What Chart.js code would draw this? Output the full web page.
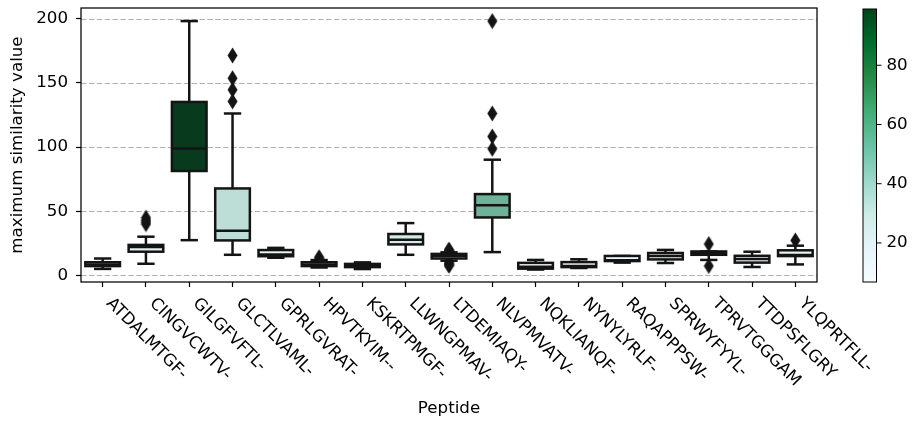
<!DOCTYPE html>
<html lang="en">
<head>
  <meta charset="UTF-8" />
  <title>Maximum similarity by peptide</title>
  <script src="https://cdn.jsdelivr.net/npm/chart.js"></script>
  <style>
    html, body { margin: 0; padding: 0; background: #fff; }
    #wrap { width: 914px; height: 423px; }
  </style>
</head>
<body>
  <div id="wrap"><canvas id="boxChart" width="914" height="423"></canvas></div>

  <script>
    // box statistics
    const peptides = ['ATDALMTGF-', 'CINGVCWTV-', 'GILGFVFTL-', 'GLCTLVAML-', 'GPRLGVRAT-', 'HPVTKYIM--',
      'KSKRTPMGF-', 'LLWNGPMAV-', 'LTDEMIAQY-', 'NLVPMVATV-', 'NQKLIANQF-', 'NYNYLYRLF-',
      'RAQAPPPSW-', 'SPRWYFYYL-', 'TPRVTGGGAM', 'TTDPSFLGRY', 'YLQPRTFLL-'];
    const q1 = [7.3, 18.5, 81.4, 27.3, 15.0, 7.3, 6.5, 24.2, 13.2, 45.2, 5.3, 6.5, 11.2, 12.5, 16.1, 10.0, 15.1];
    const medians = [8.5, 22.1, 99.0, 34.8, 16.3, 8.6, 7.2, 27.8, 15.2, 54.8, 6.8, 7.4, 11.8, 15.2, 17.4, 12.9, 16.0];
    const q3 = [10.3, 23.8, 135.2, 67.8, 19.8, 10.3, 9.0, 32.3, 16.8, 63.4, 9.8, 10.4, 15.2, 17.5, 18.7, 15.3, 19.6];
    const whiskerLow = [5.1, 9.1, 27.5, 16.1, 13.8, 6.2, 5.0, 16.1, 11.5, 18.2, 4.6, 5.8, 10.0, 9.7, 12.1, 6.6, 8.6];
    const whiskerHigh = [13.2, 30.2, 198.2, 126.2, 21.5, 12.0, 10.2, 40.8, 18.0, 90.2, 12.1, 12.6, 15.2, 19.9, 18.7, 18.5, 23.2];
    const outliers = [
      [], [40, 41.5, 43, 45], [], [135.6, 144.7, 153.7, 171.4], [], [13.3, 14.2],
      [], [], [18.8, 19.5, 20.1, 10, 9, 8.2, 7.6], [98.7, 108.3, 126.2, 198.2], [], [],
      [], [], [24.5, 7.4], [], [27.3]
    ];
    const yTicks = [0, 50, 100, 150, 200];
    const colorbarTicks = [20, 40, 60, 80];

    const FONT = '"DejaVu Sans", sans-serif';
    const FS = 16.7;
    const LINE = '#141414';
    const LW = 2.5;

    // matplotlib BuGn
    const bugn = ['#f7fcfd', '#e5f5f9', '#ccece6', '#99d8c9', '#66c2a4', '#41ae76', '#238b45', '#006d2c', '#00441b'];
    const hexRgb = h => [1, 3, 5].map(k => parseInt(h.slice(k, k + 2), 16));
    function cmap(t) {
      t = Math.max(0, Math.min(1, t));
      const p = t * (bugn.length - 1);
      const i = Math.min(Math.floor(p), bugn.length - 2);
      const f = p - i;
      const a = hexRgb(bugn[i]), b = hexRgb(bugn[i + 1]);
      return a.map((v, k) => v + (b[k] - v) * f);
    }
    // seaborn saturation=0.75
    function desat(rgb, prop) {
      const [r, g, b] = rgb.map(v => v / 255);
      const max = Math.max(r, g, b), min = Math.min(r, g, b);
      const l = (max + min) / 2;
      let h = 0, s = 0;
      if (max !== min) {
        const d = max - min;
        s = l > 0.5 ? d / (2 - max - min) : d / (max + min);
        if (max === r) h = (g - b) / d + (g < b ? 6 : 0);
        else if (max === g) h = (b - r) / d + 2;
        else h = (r - g) / d + 4;
        h /= 6;
      }
      return `hsl(${(h * 360).toFixed(2)}, ${(s * prop * 100).toFixed(2)}%, ${(l * 100).toFixed(2)}%)`;
    }
    const cmin = Math.min(...medians), cmax = Math.max(...medians);
    const boxColors = medians.map(m => desat(cmap((m - cmin) / (cmax - cmin)), 0.75));

    // thin diamond marker for fliers
    const diamond = document.createElement('canvas');
    diamond.width = 11; diamond.height = 17;
    (function () {
      const c = diamond.getContext('2d');
      c.fillStyle = LINE;
      c.beginPath();
      c.moveTo(5.5, 0.5); c.lineTo(10.5, 8.5); c.lineTo(5.5, 16.5); c.lineTo(0.5, 8.5);
      c.closePath(); c.fill();
    })();

    const flierPoints = [];
    outliers.forEach((list, i) => list.forEach(v => flierPoints.push({ x: peptides[i], y: v })));

    const boxPlugin = {
      id: 'boxParts',
      beforeDatasetsDraw(chart) {
        const { ctx, chartArea: a, scales: { x, y } } = chart;
        ctx.save();
        // dashed horizontal grid
        ctx.strokeStyle = '#b0b0b0';
        ctx.lineWidth = 1;
        ctx.setLineDash([5.5, 2.4]);
        yTicks.forEach(v => {
          const py = Math.round(y.getPixelForValue(v)) + 0.5;
          ctx.beginPath(); ctx.moveTo(a.left, py); ctx.lineTo(a.right, py); ctx.stroke();
        });
        ctx.setLineDash([]);
        // whiskers and caps
        const bars = chart.getDatasetMeta(0).data;
        ctx.strokeStyle = LINE;
        ctx.lineWidth = LW;
        peptides.forEach((p, i) => {
          const cx = x.getPixelForValue(i);
          const half = bars[i].width / 4;
          const segs = [[q3[i], whiskerHigh[i]], [q1[i], whiskerLow[i]]];
          segs.forEach(([from, to]) => {
            const y0 = y.getPixelForValue(from), y1 = y.getPixelForValue(to);
            ctx.beginPath(); ctx.moveTo(cx, y0); ctx.lineTo(cx, y1); ctx.stroke();
            ctx.beginPath(); ctx.moveTo(cx - half, y1); ctx.lineTo(cx + half, y1); ctx.stroke();
          });
        });
        ctx.restore();
      },
      afterDatasetsDraw(chart) {
        const { ctx, scales: { y } } = chart;
        const bars = chart.getDatasetMeta(0).data;
        ctx.save();
        ctx.strokeStyle = LINE;
        ctx.lineWidth = LW;
        bars.forEach((bar, i) => {
          const l = bar.x - bar.width / 2, r = bar.x + bar.width / 2;
          const top = Math.min(bar.y, bar.base), bot = Math.max(bar.y, bar.base);
          ctx.strokeRect(l, top, r - l, bot - top);
          const my = y.getPixelForValue(medians[i]);
          ctx.beginPath(); ctx.moveTo(l, my); ctx.lineTo(r, my); ctx.stroke();
        });
        ctx.restore();
      },
      afterDraw(chart) {
        const { ctx, chartArea: a, scales: { x } } = chart;
        ctx.save();
        // axes frame
        ctx.strokeStyle = '#000';
        ctx.lineWidth = 1.25;
        ctx.strokeRect(a.left, a.top, a.right - a.left, a.bottom - a.top);

        // rotated category labels
        ctx.fillStyle = '#000';
        ctx.font = `${FS}px ${FONT}`;
        ctx.textAlign = 'left';
        ctx.textBaseline = 'alphabetic';
        peptides.forEach((p, i) => {
          const px = x.getPixelForValue(i);
          ctx.save();
          ctx.translate(px + 14, a.bottom + 11);
          ctx.rotate(Math.PI / 4);
          ctx.fillText(p, 0, 15.5);
          ctx.restore();
        });

        // colorbar
        const cbL = 863, cbW = 13.5, cbT = a.top + 1, cbB = a.bottom;
        const grad = ctx.createLinearGradient(0, cbB, 0, cbT);
        bugn.forEach((c, k) => grad.addColorStop(k / (bugn.length - 1), c));
        ctx.fillStyle = grad;
        ctx.fillRect(cbL, cbT, cbW, cbB - cbT);
        ctx.strokeStyle = '#000';
        ctx.lineWidth = 1;
        ctx.strokeRect(cbL, cbT, cbW, cbB - cbT);
        ctx.fillStyle = '#000';
        ctx.textBaseline = 'middle';
        colorbarTicks.forEach(v => {
          const py = cbB - (v - cmin) / (cmax - cmin) * (cbB - cbT);
          ctx.beginPath(); ctx.moveTo(cbL + cbW, py); ctx.lineTo(cbL + cbW + 5, py); ctx.stroke();
          ctx.fillText(String(v), cbL + cbW + 10, py);
        });
        ctx.restore();
      }
    };

    const ctx = document.getElementById('boxChart').getContext('2d');
    const chart = new Chart(ctx, {
      type: 'bar',
      data: {
        labels: peptides,
        datasets: [{
          data: q1.map((v, i) => [v, q3[i]]),
          backgroundColor: boxColors,
          borderWidth: 0,
          barPercentage: 0.8,
          categoryPercentage: 1.0
        }, {
          type: 'scatter',
          data: flierPoints,
          pointStyle: diamond,
          pointRadius: 5,
          backgroundColor: LINE,
          borderWidth: 0
        }]
      },
      options: {
        responsive: false,
        animation: false,
        layout: { padding: { left: 0, top: 8, right: 97, bottom: 0 } },
        plugins: { legend: { display: false }, tooltip: { enabled: false } },
        scales: {
          x: {
            type: 'category',
            offset: true,
            afterFit: s => { s.height = 141; s.paddingLeft = 0; s.paddingRight = 0; },
            border: { display: false },
            grid: { offset: false, drawOnChartArea: false, drawTicks: true, tickLength: 5, tickWidth: 1.2, tickColor: '#000' },
            ticks: { display: false },
            title: { display: true, text: 'Peptide', color: '#000', font: { family: FONT, size: FS }, padding: { top: 4, bottom: 4 } }
          },
          y: {
            min: -5.1,
            max: 208.4,
            afterBuildTicks: s => { s.ticks = yTicks.map(v => ({ value: v })); },
            afterFit: s => { s.width = 81; s.paddingTop = 0; s.paddingBottom = 0; },
            border: { display: false },
            grid: { drawOnChartArea: false, drawTicks: true, tickLength: 5, tickWidth: 1.2, tickColor: '#000' },
            ticks: { color: '#000', padding: 8, font: { family: FONT, size: FS } },
            title: { display: true, text: 'maximum similarity value', color: '#000', font: { family: FONT, size: FS }, padding: { top: 8, bottom: 0 } }
          }
        }
      },
      plugins: [boxPlugin]
    });
  </script>
</body>
</html>
